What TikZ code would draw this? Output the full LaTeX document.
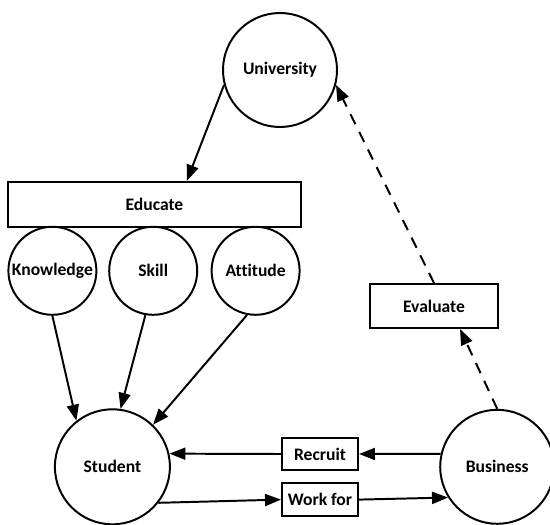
\documentclass[tikz,border=0pt]{standalone}
\usepackage{fontspec}
\setmainfont{Carlito}[Ligatures=NoCommon]
\usetikzlibrary{arrows.meta,calc}
\tikzset{
	circ/.style={draw, circle, line width=1.4pt, minimum size=#1, inner sep=0pt},
	boxnode/.style={draw, rectangle, line width=1.4pt, inner sep=0pt},
	arr/.style={-{Triangle[length=4mm,width=3mm]}, line width=1.4pt},
	evalarr/.style={arr, dash pattern=on 8pt off 6pt}
}

\begin{document}
\begin{tikzpicture}[font=\fontsize{12.5}{15}\selectfont\bfseries]
        \useasboundingbox (0,0) rectangle (13.75,13.1);
        \node [circ=2.85cm] (University) at (7.0, 11.35) {University};
        \node [boxnode, minimum width=7.33cm, minimum height=1.125cm] (Educate) at (3.86, 7.99) {Educate};
        \node [circ=2.2cm] (Knowledge) at (1.31, 6.33) {Knowledge};
        \node [circ=2.2cm] (Skill) at (3.83, 6.33) {Skill};
        \node [circ=2.2cm] (Attitude) at (6.39, 6.33) {Attitude};
        \node [circ=2.875cm] (Student) at (2.81, 1.43) {Student};
        \node [circ=2.85cm] (Business) at (12.43, 1.43) {Business};
        \node [boxnode, minimum width=1.9cm, minimum height=0.8cm] (Recruit) at (8.0, 1.75) {Recruit};
        \node [boxnode, minimum width=1.9cm, minimum height=0.825cm] (Workfor) at (8.0, 0.61) {Work for};
        \node [boxnode, minimum width=3.2cm, minimum height=1.1cm] (Evaluate) at (10.85, 5.45) {Evaluate};

        \draw [arr] (University.195) -- ($(Educate.north)+(0.81,0)$);
        \draw [arr] (Knowledge.south) -- (Student.128);
        \draw [arr] (Skill.260) -- (Student.82);
        \draw [arr] (Attitude.259) -- (Student.46);
        \draw [arr] (Recruit.west) -- (Student.13);
        \draw [arr] (Business.167) -- (Recruit.east);
        \draw [arr] (Student.322) -- (Workfor.west);
        \draw [arr] (Workfor.east) -- (Business.212);
        \draw [evalarr] (Business.north) -- ($(Evaluate.south)+(0.65,0)$);
        \draw [evalarr] (Evaluate.north) -- (University.345);
    \end{tikzpicture}
\end{document}
